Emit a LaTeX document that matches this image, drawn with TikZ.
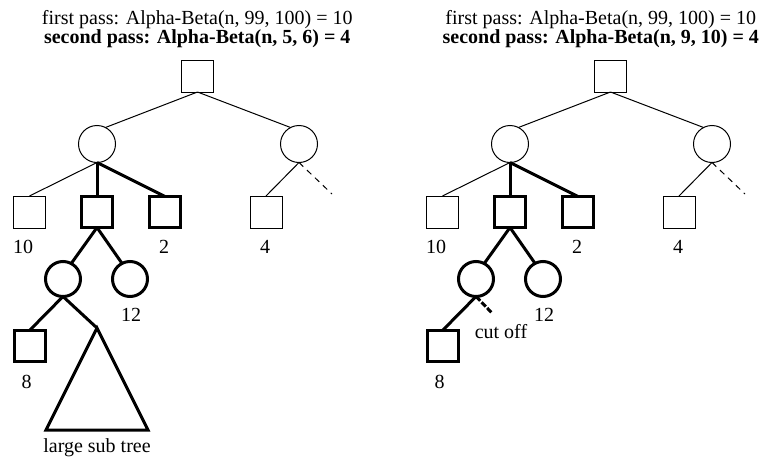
\documentclass[tikz,border=0pt]{standalone}
\usepackage{fontspec}
\setmainfont{Liberation Serif}
\begin{document}
\begin{tikzpicture}[x=1pt,y=-1pt,
  sq/.style={draw,line width=1pt,minimum size=32pt,inner sep=0pt,outer sep=0pt},
  sqb/.style={sq,line width=3pt,minimum size=31pt},
  cir/.style={draw,circle,line width=1pt,minimum size=37pt,inner sep=0pt,outer sep=0pt},
  cirb/.style={cir,line width=3pt,minimum size=35pt},
  thin/.style={line width=1pt},
  thick/.style={line width=3pt,line join=miter},
  lbl/.style={inner sep=0pt,anchor=base,font=\fontsize{20}{20}\selectfont},
  ttl/.style={inner sep=0pt,anchor=north,align=center,font=\fontsize{20}{13.3}\selectfont}]
\useasboundingbox (0,0) rectangle (764,458);
% ---------- left tree ----------
\node[ttl] (t1) at (197.3,9.8) {first pass: Alpha-Beta(n, 99, 100) = 10\\{\bfseries second pass: Alpha-Beta(n, 5, 6) = 4}};
\node[sq] (r) at (197.5,76) {};
\node[cir] (lc) at (97,144) {};
\node[cir] (rc) at (299,144) {};
\node[sq] (s1) at (29.5,212) {};
\node[sqb] (s2) at (97,212) {};
\node[sqb] (s3) at (165,212) {};
\node[sq] (s4) at (266,212) {};
\coordinate (d1) at (332,194);
\node[cirb] (c1) at (63,279) {};
\node[cirb] (c2) at (130,279) {};
\node[sqb] (s5) at (29.5,346) {};
\coordinate (ap) at (97,328);
\coordinate (bl) at (46,430);
\coordinate (br) at (148,430);
\draw[thin] (r.south) -- (lc.63);
\draw[thin] (r.south) -- (rc.117);
\draw[thin] (lc.south) -- (s1.north);
\draw[thick] (lc.south) -- (s2.north);
\draw[thick] (lc.south) -- (s3.north);
\draw[thin] (rc.south) -- (s4.north);
\draw[thin,dash pattern=on 6pt off 5pt] (rc.south) -- (d1);
\draw[thick] (s2.south) -- (c1.62);
\draw[thick] (s2.south) -- (c2.117);
\draw[thick] (c1.south) -- (s5.north);
\draw[thick] (c1.south) -- (ap);
\draw[thick] (ap) -- (bl) -- (br) -- cycle;
\node[lbl] (l10) at (23,253.3) {10};
\node[lbl] (l2) at (164,253.3) {2};
\node[lbl] (l4) at (265,253.3) {4};
\node[lbl] (l12) at (131,321.7) {12};
\node[lbl] (l8) at (26.5,388) {8};
\node[lbl] (lst) at (97,452.7) {large sub tree};
% ---------- right tree ----------
\begin{scope}[shift={(413,0)}]
\node[ttl] (u1) at (187.8,9.8) {first pass: Alpha-Beta(n, 99, 100) = 10\\{\bfseries second pass: Alpha-Beta(n, 9, 10) = 4}};
\node[sq] (R) at (197.5,76) {};
\node[cir] (LC) at (97,144) {};
\node[cir] (RC) at (299,144) {};
\node[sq] (S1) at (29.5,212) {};
\node[sqb] (S2) at (97,212) {};
\node[sqb] (S3) at (165,212) {};
\node[sq] (S4) at (266,212) {};
\coordinate (D1) at (332,194);
\node[cirb] (C1) at (63,279) {};
\node[cirb] (C2) at (130,279) {};
\node[sqb] (S5) at (29.5,346) {};
\coordinate (D2) at (79,313);
\draw[thin] (R.south) -- (LC.63);
\draw[thin] (R.south) -- (RC.117);
\draw[thin] (LC.south) -- (S1.north);
\draw[thick] (LC.south) -- (S2.north);
\draw[thick] (LC.south) -- (S3.north);
\draw[thin] (RC.south) -- (S4.north);
\draw[thin,dash pattern=on 6pt off 5pt] (RC.south) -- (D1);
\draw[thick] (S2.south) -- (C1.62);
\draw[thick] (S2.south) -- (C2.117);
\draw[thick] (C1.south) -- (S5.north);
\draw[thick,dash pattern=on 6pt off 2pt] (C1.south) -- (D2);
\node[lbl] (L10) at (23,253.3) {10};
\node[lbl] (L2) at (164,253.3) {2};
\node[lbl] (L4) at (265,253.3) {4};
\node[lbl] (L12) at (131,321.7) {12};
\node[lbl] (L8) at (26.5,388) {8};
\node[lbl] (Lco) at (88,338.3) {cut off};
\end{scope}
\end{tikzpicture}
\end{document}
